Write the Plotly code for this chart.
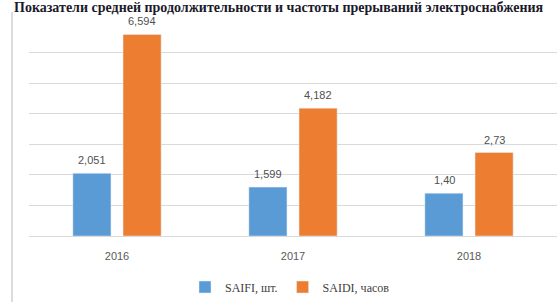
import plotly.graph_objects as go

years = ["2016", "2017", "2018"]
saifi = [2.051, 1.599, 1.40]
saidi = [6.594, 4.182, 2.73]
saifi_labels = ["2,051", "1,599", "1,40"]
saidi_labels = ["6,594", "4,182", "2,73"]
series_names = ["SAIFI, шт.", "SAIDI, часов"]
title_text = "Показатели средней продолжительности и частоты прерываний электроснабжения"

W, H = 558, 302
L, R, T, B = 29, 1, 22, 66

fig = go.Figure()
fig.add_trace(go.Bar(x=years, y=saifi, name=series_names[0], marker_color="#5B9BD5"))
fig.add_trace(go.Bar(x=years, y=saidi, name=series_names[1], marker_color="#ED7D31"))

label_font = dict(family="Liberation Sans", size=11, color="#505050")
annotations = []
for vals, labs, dx in ((saifi, saifi_labels, -25), (saidi, saidi_labels, 25)):
    for i, (v, t) in enumerate(zip(vals, labs)):
        annotations.append(dict(x=i, y=v, xref="x", yref="y", text=t, showarrow=False,
                                xshift=dx, yshift=13, yanchor="middle", font=label_font))

pw = W - L - R
ph = H - T - B
annotations.append(dict(text="<b>" + title_text + "</b>", xref="paper", yref="paper",
                        x=(W / 2 - L) / pw, xanchor="center",
                        y=1 + (T - 7) / ph, yanchor="middle", showarrow=False,
                        font=dict(family="Liberation Serif", size=14, color="#1a1a2a")))

fig.update_layout(
    width=W, height=H,
    margin=dict(l=L, r=R, t=T, b=B),
    paper_bgcolor="white", plot_bgcolor="white",
    barmode="group", bargap=0.43, bargroupgap=0.24,
    showlegend=True,
    legend=dict(orientation="h", x=(290 - L) / pw, xanchor="center",
                y=-(287 - (H - B)) / ph, yanchor="middle",
                font=dict(family="Liberation Serif", size=12, color="#404040"),
                itemwidth=30, traceorder="normal"),
    xaxis=dict(type="category", range=[-0.5, len(years) - 0.5], showgrid=False,
               showline=True, linecolor="#d9d9d9", ticks="", ticklabelstandoff=10,
               tickfont=dict(family="Liberation Sans", size=11, color="#595959")),
    yaxis=dict(range=[0, 7], dtick=1, showgrid=True, gridcolor="#d9d9d9",
               showticklabels=False, zeroline=False, showline=False),
    shapes=[dict(type="line", xref="paper", yref="paper",
                 x0=(12 - L) / pw, x1=(12 - L) / pw,
                 y0=-(B / ph), y1=1 + (T - 12) / ph,
                 line=dict(color="#d0d0d0", width=1.5))],
    annotations=annotations,
)

fig.write_html("out.html", config={"displayModeBar": False},
               post_script="document.body.style.margin='0';")
